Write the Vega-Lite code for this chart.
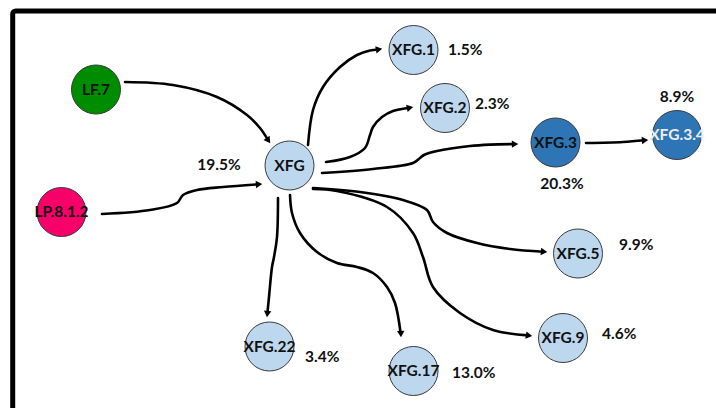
{
  "$schema": "https://vega.github.io/schema/vega-lite/v6.json",
  "width": 716,
  "height": 408,
  "autosize": {"type": "fit", "contains": "padding"},
  "padding": 0,
  "background": "white",
  "config": {"view": {"stroke": null}},
  "datasets": {
    "frame": [{"x": 12.7, "x2": 800, "y": 11, "y2": 500}],
    "nodes": [
      {"name": "LF.7", "x": 96, "y": 89.5, "group": "LF"},
      {"name": "LP.8.1.2", "x": 61.5, "y": 212, "group": "LP"},
      {"name": "XFG", "x": 289.5, "y": 165.5, "group": "XFG"},
      {"name": "XFG.1", "x": 413.5, "y": 50, "group": "XFG"},
      {"name": "XFG.2", "x": 445, "y": 108, "group": "XFG"},
      {"name": "XFG.3", "x": 555.5, "y": 142.5, "group": "XFG.3"},
      {"name": "XFG.3.4", "x": 677, "y": 135, "group": "XFG.3"},
      {"name": "XFG.5", "x": 578, "y": 253.5, "group": "XFG"},
      {"name": "XFG.9", "x": 563, "y": 338, "group": "XFG"},
      {"name": "XFG.17", "x": 413.5, "y": 371, "group": "XFG"},
      {"name": "XFG.22", "x": 269.5, "y": 346.5, "group": "XFG"}
    ],
    "edges": [
      {"edge": "e1", "i": 0, "x": 125, "y": 82},
      {"edge": "e1", "i": 1, "x": 173, "y": 85},
      {"edge": "e1", "i": 2, "x": 217, "y": 97},
      {"edge": "e1", "i": 3, "x": 247, "y": 115},
      {"edge": "e1", "i": 4, "x": 260, "y": 128},
      {"edge": "e1", "i": 5, "x": 267.8, "y": 139.7},
      {"edge": "e2", "i": 0, "x": 102, "y": 214},
      {"edge": "e2", "i": 1, "x": 150, "y": 210},
      {"edge": "e2", "i": 2, "x": 177, "y": 203},
      {"edge": "e2", "i": 3, "x": 183, "y": 195},
      {"edge": "e2", "i": 4, "x": 197, "y": 190},
      {"edge": "e2", "i": 5, "x": 223, "y": 187},
      {"edge": "e2", "i": 6, "x": 258, "y": 184.3},
      {"edge": "e3", "i": 0, "x": 308, "y": 145},
      {"edge": "e3", "i": 1, "x": 313, "y": 110},
      {"edge": "e3", "i": 2, "x": 323, "y": 87},
      {"edge": "e3", "i": 3, "x": 340, "y": 67},
      {"edge": "e3", "i": 4, "x": 357, "y": 55},
      {"edge": "e3", "i": 5, "x": 370, "y": 50.5},
      {"edge": "e3", "i": 6, "x": 378, "y": 49.5},
      {"edge": "e4", "i": 0, "x": 326, "y": 162},
      {"edge": "e4", "i": 1, "x": 350, "y": 157},
      {"edge": "e4", "i": 2, "x": 365, "y": 148},
      {"edge": "e4", "i": 3, "x": 370, "y": 135},
      {"edge": "e4", "i": 4, "x": 373, "y": 127},
      {"edge": "e4", "i": 5, "x": 382, "y": 117},
      {"edge": "e4", "i": 6, "x": 393, "y": 111},
      {"edge": "e4", "i": 7, "x": 408, "y": 108},
      {"edge": "e5", "i": 0, "x": 322, "y": 173},
      {"edge": "e5", "i": 1, "x": 373, "y": 169},
      {"edge": "e5", "i": 2, "x": 413, "y": 163},
      {"edge": "e5", "i": 3, "x": 420, "y": 158},
      {"edge": "e5", "i": 4, "x": 424, "y": 155},
      {"edge": "e5", "i": 5, "x": 437, "y": 151},
      {"edge": "e5", "i": 6, "x": 470, "y": 146},
      {"edge": "e5", "i": 7, "x": 490, "y": 144.6},
      {"edge": "e5", "i": 8, "x": 514, "y": 144.1},
      {"edge": "e6", "i": 0, "x": 586, "y": 143},
      {"edge": "e6", "i": 1, "x": 623, "y": 142},
      {"edge": "e6", "i": 2, "x": 644, "y": 140.3},
      {"edge": "e7", "i": 0, "x": 313, "y": 188},
      {"edge": "e7", "i": 1, "x": 360, "y": 192},
      {"edge": "e7", "i": 2, "x": 403, "y": 200},
      {"edge": "e7", "i": 3, "x": 427, "y": 210},
      {"edge": "e7", "i": 4, "x": 433, "y": 222},
      {"edge": "e7", "i": 5, "x": 447, "y": 233},
      {"edge": "e7", "i": 6, "x": 477, "y": 243},
      {"edge": "e7", "i": 7, "x": 510, "y": 249},
      {"edge": "e7", "i": 8, "x": 543, "y": 251.7},
      {"edge": "e8", "i": 0, "x": 313, "y": 189},
      {"edge": "e8", "i": 1, "x": 337, "y": 191},
      {"edge": "e8", "i": 2, "x": 387, "y": 207},
      {"edge": "e8", "i": 3, "x": 413, "y": 233},
      {"edge": "e8", "i": 4, "x": 423, "y": 257},
      {"edge": "e8", "i": 5, "x": 433, "y": 287},
      {"edge": "e8", "i": 6, "x": 460, "y": 313},
      {"edge": "e8", "i": 7, "x": 493, "y": 330},
      {"edge": "e8", "i": 8, "x": 528, "y": 335.4},
      {"edge": "e9", "i": 0, "x": 290, "y": 195},
      {"edge": "e9", "i": 1, "x": 292, "y": 213},
      {"edge": "e9", "i": 2, "x": 300, "y": 233},
      {"edge": "e9", "i": 3, "x": 317, "y": 252},
      {"edge": "e9", "i": 4, "x": 337, "y": 263},
      {"edge": "e9", "i": 5, "x": 357, "y": 267},
      {"edge": "e9", "i": 6, "x": 373, "y": 273},
      {"edge": "e9", "i": 7, "x": 387, "y": 287},
      {"edge": "e9", "i": 8, "x": 395, "y": 303},
      {"edge": "e9", "i": 9, "x": 400.6, "y": 333},
      {"edge": "e10", "i": 0, "x": 278, "y": 198},
      {"edge": "e10", "i": 1, "x": 277, "y": 237},
      {"edge": "e10", "i": 2, "x": 274, "y": 257},
      {"edge": "e10", "i": 3, "x": 272, "y": 267},
      {"edge": "e10", "i": 4, "x": 269, "y": 297},
      {"edge": "e10", "i": 5, "x": 267.4, "y": 313}
    ],
    "arrows": [
      {"edge": "e1", "x": 267.8, "y": 139.7, "angle": 146},
      {"edge": "e2", "x": 258, "y": 184.3, "angle": 86},
      {"edge": "e3", "x": 378, "y": 49.6, "angle": 80},
      {"edge": "e4", "x": 409, "y": 107.9, "angle": 78},
      {"edge": "e5", "x": 514, "y": 144.1, "angle": 89},
      {"edge": "e6", "x": 644, "y": 140.3, "angle": 85},
      {"edge": "e7", "x": 543, "y": 251.7, "angle": 95},
      {"edge": "e8", "x": 528, "y": 335.4, "angle": 99},
      {"edge": "e9", "x": 400.8, "y": 333, "angle": 177},
      {"edge": "e10", "x": 267.4, "y": 313, "angle": 186}
    ],
    "shares": [
      {"label": "19.5%", "x": 219, "y": 165, "place": "center"},
      {"label": "1.5%", "x": 448, "y": 50, "place": "right"},
      {"label": "2.3%", "x": 475, "y": 104, "place": "right"},
      {"label": "20.3%", "x": 562, "y": 184, "place": "center"},
      {"label": "8.9%", "x": 677, "y": 97, "place": "center"},
      {"label": "9.9%", "x": 619, "y": 245, "place": "right"},
      {"label": "4.6%", "x": 602, "y": 334, "place": "right"},
      {"label": "13.0%", "x": 452, "y": 373, "place": "right"},
      {"label": "3.4%", "x": 305, "y": 357, "place": "right"}
    ]
  },
  "encoding": {
    "x": {"type": "quantitative", "scale": {"domain": [0, 716], "nice": false, "zero": false}, "axis": null},
    "y": {"type": "quantitative", "scale": {"domain": [0, 408], "nice": false, "zero": false, "reverse": true}, "axis": null}
  },
  "layer": [
    {
      "data": {"name": "frame"},
      "mark": {"type": "rect", "fill": null, "stroke": "black", "strokeWidth": 5, "cornerRadius": 3, "clip": true},
      "encoding": {
        "x": {"field": "x", "type": "quantitative"},
        "x2": {"field": "x2"},
        "y": {"field": "y", "type": "quantitative"},
        "y2": {"field": "y2"}
      }
    },
    {
      "data": {"name": "edges"},
      "mark": {"type": "line", "interpolate": "catmull-rom", "stroke": "black", "strokeWidth": 2.6, "strokeCap": "round"},
      "encoding": {
        "x": {"field": "x", "type": "quantitative"},
        "y": {"field": "y", "type": "quantitative"},
        "detail": {"field": "edge"},
        "order": {"field": "i", "type": "quantitative"}
      }
    },
    {
      "data": {"name": "arrows"},
      "mark": {"type": "point", "shape": "triangle", "filled": true, "color": "black", "size": 55, "opacity": 1},
      "encoding": {
        "x": {"field": "x", "type": "quantitative"},
        "y": {"field": "y", "type": "quantitative"},
        "angle": {"field": "angle", "type": "quantitative", "scale": null}
      }
    },
    {
      "data": {"name": "nodes"},
      "mark": {"type": "circle", "size": 2400, "opacity": 1, "stroke": "#3a3a3a", "strokeWidth": 1},
      "encoding": {
        "x": {"field": "x", "type": "quantitative"},
        "y": {"field": "y", "type": "quantitative"},
        "fill": {"field": "group", "type": "nominal", "legend": null,
          "scale": {"domain": ["LF", "LP", "XFG", "XFG.3"], "range": ["#008C00", "#F8006A", "#BDD7EE", "#2E75B6"]}}
      }
    },
    {
      "data": {"name": "nodes"},
      "mark": {"type": "text", "font": "Lato", "fontWeight": "bold", "fontSize": 15.5, "align": "center", "baseline": "middle"},
      "encoding": {
        "x": {"field": "x", "type": "quantitative"},
        "y": {"field": "y", "type": "quantitative"},
        "text": {"field": "name"},
        "color": {"condition": {"test": "datum.name === 'XFG.3.4'", "value": "#EEEEEE"}, "value": "#111111"}
      }
    },
    {
      "data": {"name": "shares"},
      "transform": [{"filter": "datum.place === 'center'"}],
      "mark": {"type": "text", "font": "Lato", "fontWeight": "bold", "fontSize": 15.5, "align": "center", "baseline": "middle", "color": "#111111"},
      "encoding": {
        "x": {"field": "x", "type": "quantitative"},
        "y": {"field": "y", "type": "quantitative"},
        "text": {"field": "label"}
      }
    },
    {
      "data": {"name": "shares"},
      "transform": [{"filter": "datum.place === 'right'"}],
      "mark": {"type": "text", "font": "Lato", "fontWeight": "bold", "fontSize": 15.5, "align": "left", "baseline": "middle", "color": "#111111"},
      "encoding": {
        "x": {"field": "x", "type": "quantitative"},
        "y": {"field": "y", "type": "quantitative"},
        "text": {"field": "label"}
      }
    }
  ]
}
